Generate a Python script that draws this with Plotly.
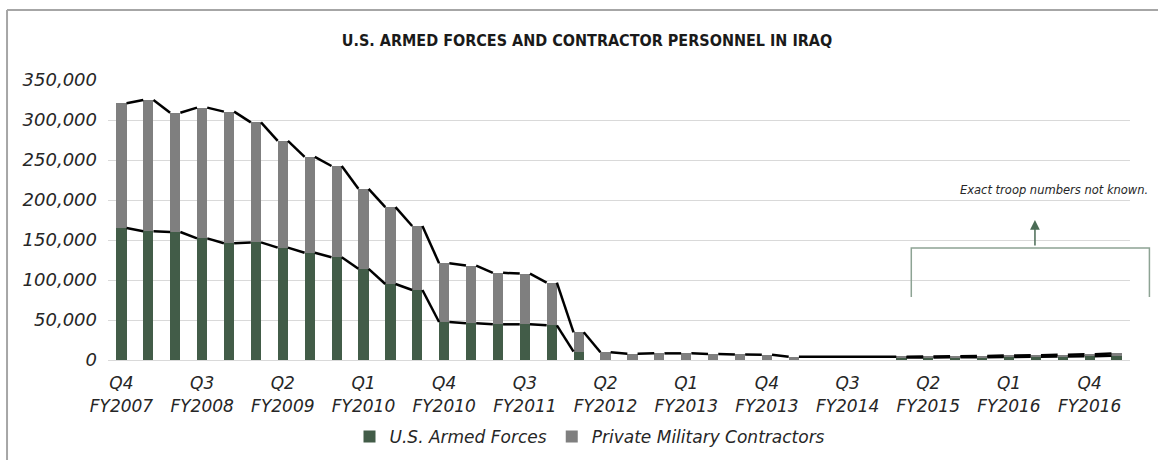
import plotly.graph_objects as go

# ---------------- data ----------------
categories = [
    "Q4 FY2007", "Q1 FY2008", "Q2 FY2008", "Q3 FY2008", "Q4 FY2008",
    "Q1 FY2009", "Q2 FY2009", "Q3 FY2009", "Q4 FY2009", "Q1 FY2010",
    "Q2 FY2010", "Q3 FY2010", "Q4 FY2010", "Q1 FY2011", "Q2 FY2011",
    "Q3 FY2011", "Q4 FY2011", "Q1 FY2012", "Q2 FY2012", "Q3 FY2012",
    "Q4 FY2012", "Q1 FY2013", "Q2 FY2013", "Q3 FY2013", "Q4 FY2013",
    "Q1 FY2014", "Q2 FY2014", "Q3 FY2014", "Q4 FY2014", "Q1 FY2015",
    "Q2 FY2015", "Q3 FY2015", "Q4 FY2015", "Q1 FY2016", "Q2 FY2016",
    "Q3 FY2016", "Q4 FY2016", "Q1 FY2017",
]
troops = [
    165000, 161000, 160000, 152000, 146000, 147000, 140500, 134000, 128500,
    114000, 95000, 87500, 47500, 46000, 44600, 44600, 43300, 10400,
    None, None, None, None, None, None, None, None, None, None, None,
    3000, 3100, 3300, 3500, 3800, 4000, 4300, 4600, 5200,
]
contractors = [
    156000, 164000, 149000, 163500, 164500, 150000, 133500, 120000, 114000,
    100000, 96000, 80000, 73500, 72000, 64400, 63400, 53400, 24200,
    9600, 7900, 8300, 8300, 7500, 7000, 6500, 4000,
    None, None, None,
    1200, 1300, 1400, 1600, 1800, 2000, 2200, 2500, 3000,
]
tick_every = 3
note_text = "Exact troop numbers not known."
title_text = "U.S. ARMED FORCES AND CONTRACTOR PERSONNEL IN IRAQ"

# ---------------- styling ----------------
GREEN = "#425c48"
GRAY = "#7f7f7f"
GRID = "#d9d9d9"
TEXT = "#262626"
BAR_W = 0.38
FONT = "DejaVu Sans"

x = list(range(len(categories)))
totals = []
for t, c in zip(troops, contractors):
    if t is None and c is None:
        totals.append(None)
    else:
        totals.append((t or 0) + (c or 0))

# series lines (Excel style: right top edge of one bar to left top edge of next)
def series_line(vals, bridge_gaps):
    xs, ys = [], []
    present = [i for i, v in enumerate(vals) if v is not None]
    for a, b in zip(present[:-1], present[1:]):
        if not bridge_gaps and b != a + 1:
            continue
        xs += [a + BAR_W / 2, b - BAR_W / 2, None]
        ys += [vals[a], vals[b], None]
    return xs, ys

fig = go.Figure()
fig.add_trace(go.Bar(x=x, y=troops, name="U.S. Armed Forces",
                     marker=dict(color=GREEN, line=dict(width=0))))
fig.add_trace(go.Bar(x=x, y=contractors, name="Private Military Contractors",
                     marker=dict(color=GRAY, line=dict(width=0))))

lx, ly = series_line(totals, True)
fig.add_trace(go.Scatter(x=lx, y=ly, mode="lines", line=dict(color="black", width=2.5),
                         showlegend=False, hoverinfo="skip"))
lx, ly = series_line(troops, False)
fig.add_trace(go.Scatter(x=lx, y=ly, mode="lines", line=dict(color="black", width=2.5),
                         showlegend=False, hoverinfo="skip"))

tickvals = x[::tick_every]
ticktext = [categories[i].replace(" ", "<br>") for i in tickvals]

fig.update_layout(
    width=1158, height=460,
    margin=dict(l=108, r=28, t=80, b=100, autoexpand=False),
    paper_bgcolor="white", plot_bgcolor="white",
    barmode="stack", bargap=1 - BAR_W,
    font=dict(family=FONT, color=TEXT, size=17),
    title=dict(text=title_text, x=587 / 1158, xref="container", xanchor="center",
               y=1 - 40 / 460, yref="container", yanchor="middle",
               font=dict(family="DejaVu Sans Condensed", weight="bold", size=16, color="#1a1a1a")),
    legend=dict(orientation="h", x=590 / 1158, xref="container", xanchor="center",
                y=1 - 437 / 460, yref="container", yanchor="middle",
                font=dict(family=FONT, size=17, style="italic", color=TEXT),
                itemwidth=30, traceorder="normal"),
    showlegend=True,
)
fig.update_xaxes(range=[-0.5, len(categories) - 0.5], tickvals=tickvals, ticktext=ticktext,
                 showgrid=False, zeroline=False, showline=True, linecolor=GRID, linewidth=1,
                 ticks="", ticklabelstandoff=8, automargin=False,
                 tickfont=dict(family=FONT, size=17, style="italic", color=TEXT))
fig.update_yaxes(range=[0, 350000], dtick=50000, tickformat=",", showgrid=True, gridcolor=GRID,
                 gridwidth=1, zeroline=False, showline=False, ticks="", ticklabelstandoff=10,
                 automargin=False,
                 tickfont=dict(family=FONT, size=18, style="italic", color=TEXT))

# outer frame (left and top edges)
fig.add_shape(type="line", xref="paper", yref="paper", x0=-0.0988, x1=-0.0988, y0=1.25, y1=-0.5,
              line=dict(color="#a6a6a6", width=2))
fig.add_shape(type="line", xref="paper", yref="paper", x0=-0.0988, x1=1.03, y0=1.25, y1=1.25,
              line=dict(color="#a6a6a6", width=2))

# bracket for the note
bx0, bx1, by_top, by_bot = 0.786, 1.019, 0.40, 0.225
fig.add_shape(type="path", xref="paper", yref="paper",
              path=f"M {bx0},{by_bot} L {bx0},{by_top} L {bx1},{by_top} L {bx1},{by_bot}",
              line=dict(color="#8da394", width=1.5))
fig.add_annotation(xref="paper", yref="paper", x=0.907, y=0.50, ax=0, ay=27,
                   showarrow=True, arrowhead=2, arrowsize=1.3,
                   arrowwidth=1.5, arrowcolor="#4a6b55", text="")
fig.add_annotation(xref="paper", yref="paper", x=1.0195, y=0.607, xanchor="right", yanchor="middle",
                   text=note_text, showarrow=False,
                   font=dict(family=FONT, size=11.5, style="italic", color=TEXT))

fig.write_html("out.html", config={"displayModeBar": False},
               post_script="document.body.style.margin='0';")
